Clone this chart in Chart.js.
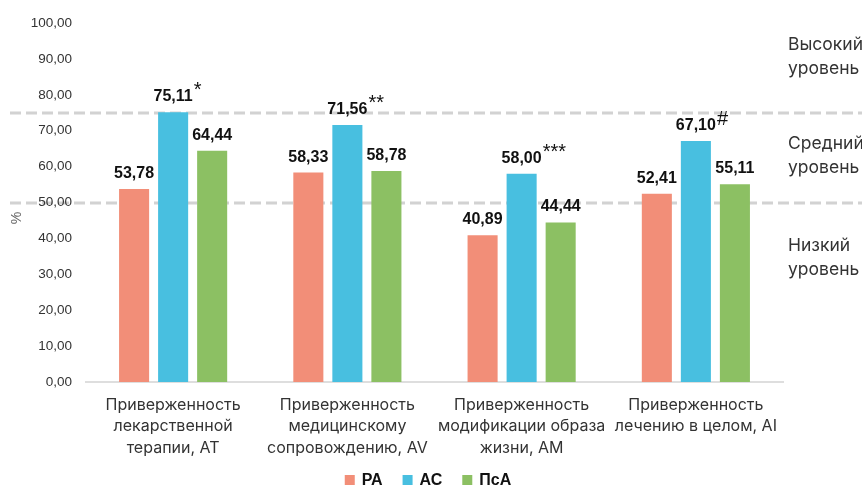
<!DOCTYPE html>
<html><head><meta charset="utf-8">
<script src="https://cdn.jsdelivr.net/npm/chart.js@4/dist/chart.umd.min.js"></script>
<style>html,body{margin:0;padding:0;background:#fff;} canvas{display:block;}</style>
</head><body>
<canvas id="c" width="862" height="488"></canvas>
<script>
const categories = [
  ['Приверженность', 'лекарственной', 'терапии, AT'],
  ['Приверженность', 'медицинскому', 'сопровождению, AV'],
  ['Приверженность', 'модификации образа', 'жизни, AM'],
  ['Приверженность', 'лечению в целом, AI']
];
const seriesNames = ['РА', 'АС', 'ПсА'];
const raValues = [53.78, 58.33, 40.89, 52.41];
const acValues = [75.11, 71.56, 58.00, 67.10];
const psaValues = [64.44, 58.78, 44.44, 55.11];
const acMarkers = ['*', '**', '***', '#'];
const yMin = 0, yMax = 100, yStep = 10;
const thresholds = [50, 75];
const levelLabels = [['Высокий', 'уровень'], ['Средний', 'уровень'], ['Низкий', 'уровень']];
const levelValues = [90.5, 63, 34.5];
const axisTitle = '%';

const colors = ['#F28E78', '#48BFE0', '#8CC063'];
const TEXT = '#333333';
const SANS = '"Liberation Sans", Arial, sans-serif';
const LABEL_FONT = 'Inter, "Noto Sans", sans-serif';

function fmt(v) { return v.toFixed(2).replace('.', ','); }

const decor = {
  id: 'decor',
  beforeDraw(chart) {
    const ctx = chart.ctx, y = chart.scales.y;
    ctx.save();
    ctx.strokeStyle = '#d2d2d2';
    ctx.lineWidth = 3;
    ctx.setLineDash([11, 5]);
    thresholds.forEach(t => {
      const py = Math.round(y.getPixelForValue(t));
      ctx.beginPath();
      ctx.moveTo(10, py);
      ctx.lineTo(chart.width, py);
      ctx.stroke();
    });
    ctx.restore();
  },
  afterDatasetsDraw(chart) {
    const ctx = chart.ctx;
    ctx.save();
    chart.data.datasets.forEach((ds, di) => {
      const meta = chart.getDatasetMeta(di);
      meta.data.forEach((bar, i) => {
        const txt = fmt(ds.data[i]);
        const by = bar.y - 11;
        ctx.font = 'bold 16px ' + SANS;
        ctx.fillStyle = '#111';
        ctx.textAlign = 'center';
        ctx.textBaseline = 'alphabetic';
        ctx.fillText(txt, bar.x, by);
        if (di === 1 && acMarkers[i]) {
          const w = ctx.measureText(txt).width;
          ctx.font = '20px ' + SANS;
          ctx.textAlign = 'left';
          ctx.fillText(acMarkers[i], bar.x + w / 2 + 1, by - 5);
        }
      });
    });
    ctx.restore();
  },
  afterDraw(chart) {
    const ctx = chart.ctx, y = chart.scales.y, area = chart.chartArea;
    ctx.save();
    // right-side level labels
    ctx.font = '17.5px ' + LABEL_FONT;
    ctx.fillStyle = TEXT;
    ctx.textAlign = 'left';
    ctx.textBaseline = 'middle';
    levelLabels.forEach((lines, k) => {
      const cy = y.getPixelForValue(levelValues[k]);
      lines.forEach((ln, j) => {
        ctx.fillText(ln, area.right + 5, cy + (j - (lines.length - 1) / 2) * 24);
      });
    });
    // axis title
    ctx.save();
    ctx.translate(17, 218);
    ctx.rotate(-Math.PI / 2);
    ctx.font = '14px ' + SANS;
    ctx.fillStyle = '#666';
    ctx.textAlign = 'center';
    ctx.textBaseline = 'middle';
    ctx.fillText(axisTitle, 0, 0);
    ctx.restore();
    // legend
    ctx.font = 'bold 16px ' + SANS;
    const box = 10, gapBT = 7, gapItem = 20;
    const items = chart.data.datasets.map(ds => ({ label: ds.label, color: ds.backgroundColor, w: ctx.measureText(ds.label).width }));
    const total = items.reduce((s, it) => s + box + gapBT + it.w, 0) + gapItem * (items.length - 1);
    let x = 428 - total / 2;
    const ly = 480;
    ctx.textBaseline = 'middle';
    ctx.textAlign = 'left';
    items.forEach(it => {
      ctx.fillStyle = it.color;
      ctx.fillRect(x, ly - box / 2, box, box);
      x += box + gapBT;
      ctx.fillStyle = '#111';
      ctx.fillText(it.label, x, ly + 1);
      x += it.w + gapItem;
    });
    ctx.restore();
  }
};

new Chart(document.getElementById('c'), {
  type: 'bar',
  data: {
    labels: categories,
    datasets: [
      { label: seriesNames[0], data: raValues, backgroundColor: colors[0] },
      { label: seriesNames[1], data: acValues, backgroundColor: colors[1] },
      { label: seriesNames[2], data: psaValues, backgroundColor: colors[2] }
    ]
  },
  options: {
    responsive: false,
    animation: false,
    devicePixelRatio: 1,
    categoryPercentage: 0.672,
    barPercentage: 0.77,
    layout: { padding: { left: 0, right: 79, top: 23, bottom: 0 } },
    plugins: { legend: { display: false }, tooltip: { enabled: false } },
    scales: {
      x: {
        grid: { display: false, drawTicks: false },
        border: { display: true, color: '#dedede', width: 2 },
        ticks: { color: TEXT, font: { family: LABEL_FONT, size: 16, lineHeight: 1.35 }, padding: 12, maxRotation: 0, autoSkip: false },
        afterFit(s) { s.height = 106; }
      },
      y: {
        min: yMin, max: yMax,
        grid: { display: false, drawTicks: false },
        border: { display: false },
        ticks: { stepSize: yStep, color: TEXT, font: { family: SANS, size: 13.5 }, padding: 14, callback: v => fmt(v) },
        afterFit(s) { s.width = 86; }
      }
    }
  },
  plugins: [decor]
});
</script>
</body></html>
